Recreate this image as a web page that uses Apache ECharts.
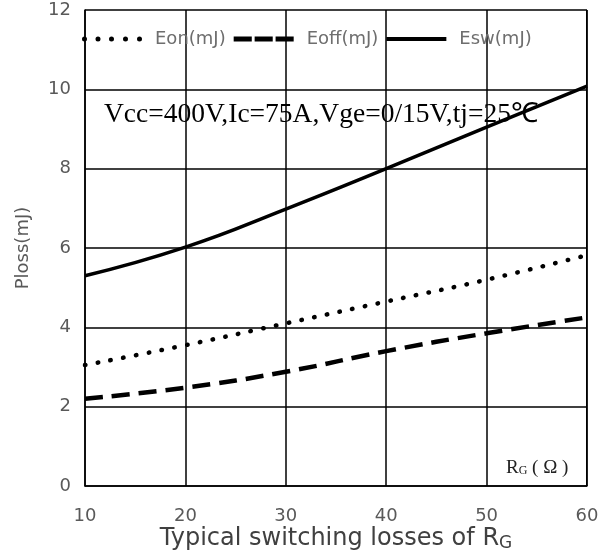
<!DOCTYPE html>
<html>
<head>
<meta charset="utf-8">
<script src="https://cdn.jsdelivr.net/npm/echarts@6/dist/echarts.min.js"></script>
<style>html,body{margin:0;padding:0;background:#fff;}#c{width:611px;height:555px;}</style>
</head>
<body>
<div id="c"></div>
<script>
const rg = [10, 20, 30, 40, 50, 60];
const eon = [3.05, 3.55, 4.1, 4.65, 5.2, 5.82];
const eoff = [2.2, 2.48, 2.88, 3.4, 3.85, 4.25];
const esw = [5.3, 6.02, 6.98, 8.0, 9.05, 10.08];
const seriesNames = ['Eon(mJ)', 'Eoff(mJ)', 'Esw(mJ)'];
const yTicks = [0, 2, 4, 6, 8, 10, 12];
const conditionText = 'Vcc=400V,Ic=75A,Vge=0/15V,tj=25℃';

const dot = x => `M${x},2.5a2.5,2.5 0 1,0 5,0a2.5,2.5 0 1,0 -5,0z`;
const iconDotted = 'path://' + [0, 13.5, 27, 41, 55].map(dot).join('');
const iconDashed = 'path://M0,0h19v5h-19zM22,0h19v5h-19zM44,0h19v5h-19z';
const iconSolid = 'path://M0,0.5h60v4h-60z';
const icons = [iconDotted, iconDashed, iconSolid];

const pair = arr => rg.map((x, i) => [x, arr[i]]);
const sans = 'DejaVu Sans';
const chart = echarts.init(document.getElementById('c'));
chart.setOption({
  animation: false,
  grid: {left: 85, right: 24, top: 10, bottom: 69, outerBoundsMode: 'none', containLabel: false},
  legend: {
    top: 25, left: 77,
    itemWidth: 60, itemHeight: 5, itemGap: 8,
    textStyle: {fontFamily: sans, fontSize: 18, color: '#6e6e6e', padding: [0, 0, 0, 8], width: 92},
    data: seriesNames.map((n, i) => ({name: n, icon: icons[i]}))
  },
  xAxis: {
    type: 'value', min: 10, max: 60, interval: 10,
    axisLine: {show: true, lineStyle: {color: '#000', width: 1.5}},
    axisTick: {show: false},
    axisLabel: {margin: 21, fontFamily: sans, fontSize: 18, color: '#595959'},
    splitLine: {show: true, lineStyle: {color: '#000', width: 1.5}},
    name: 'Typical switching losses of R{sub|G}',
    nameLocation: 'middle', nameGap: 40, nameMoveOverlap: false,
    nameTextStyle: {fontFamily: sans, fontSize: 24, color: '#404040',
      rich: {sub: {fontFamily: sans, fontSize: 17, color: '#404040', padding: [9, 0, 0, 0]}}}
  },
  yAxis: {
    type: 'value', min: yTicks[0], max: yTicks[yTicks.length - 1], interval: 2,
    axisLine: {show: true, lineStyle: {color: '#000', width: 1.5}},
    axisTick: {show: false},
    axisLabel: {margin: 14, fontFamily: sans, fontSize: 18, color: '#595959'},
    splitLine: {show: true, lineStyle: {color: '#000', width: 1.5}},
    name: 'Ploss(mJ)', nameLocation: 'middle', nameGap: 53, nameMoveOverlap: false,
    nameTextStyle: {fontFamily: sans, fontSize: 18, color: '#595959'}
  },
  graphic: [
    {type: 'rect', shape: {x: 586, y: 10, width: 1.5, height: 476}, style: {fill: '#000'}, silent: true},
    {type: 'text', x: 104, y: 115, style: {text: conditionText, fontFamily: 'Liberation Serif', fontSize: 27.5, fill: '#000', verticalAlign: 'middle'}},
    {type: 'text', x: 506, y: 468, style: {text: '{r|R}{s|G}{r| ( Ω )}', verticalAlign: 'middle', rich: {
      r: {fontFamily: 'Liberation Serif', fontSize: 19, fill: '#222'},
      s: {fontFamily: 'Liberation Serif', fontSize: 12, fill: '#222', padding: [6, 0, 0, 0]}}}}
  ],
  series: [
    {name: seriesNames[0], type: 'line', smooth: true, symbol: 'none', data: pair(eon),
     lineStyle: {color: '#000', width: 4.5, type: [0.5, 12.5], cap: 'round'}, itemStyle: {color: '#000'}},
    {name: seriesNames[1], type: 'line', smooth: true, symbol: 'none', data: pair(eoff),
     lineStyle: {color: '#000', width: 4.5, type: [18, 9]}, itemStyle: {color: '#000'}},
    {name: seriesNames[2], type: 'line', smooth: true, symbol: 'none', data: pair(esw),
     lineStyle: {color: '#000', width: 3.5}, itemStyle: {color: '#000'}}
  ]
});
</script>
</body>
</html>
